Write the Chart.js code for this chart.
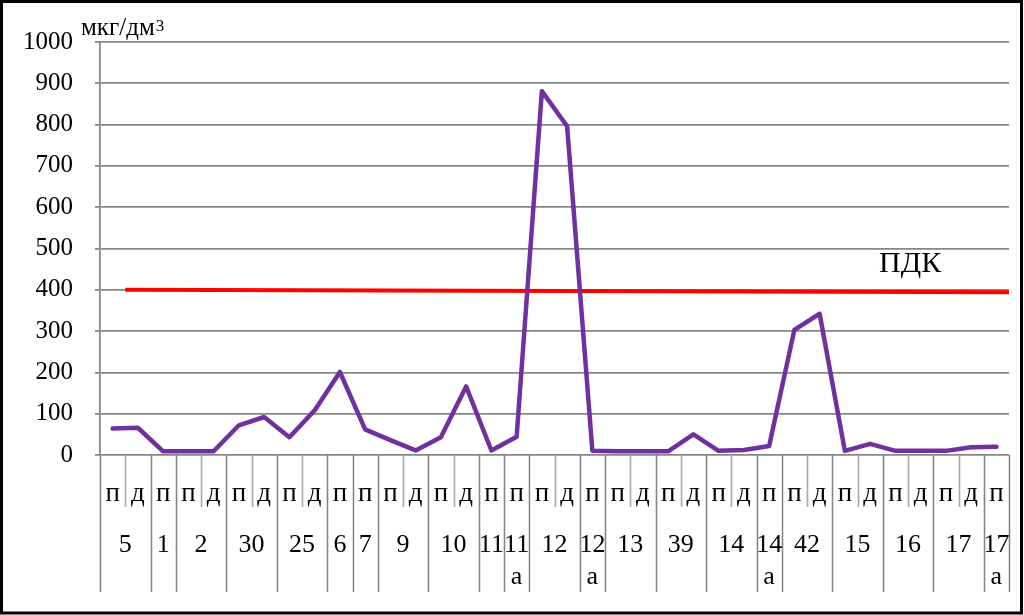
<!DOCTYPE html>
<html>
<head>
<meta charset="utf-8">
<script src="https://cdn.jsdelivr.net/npm/chart.js@4"></script>
<style>
  html, body { margin: 0; padding: 0; background: #fff; overflow: hidden; }
  canvas { display: block; }
</style>
</head>
<body>
<canvas id="myChart" width="1024" height="615"></canvas>
<script>
const FONT = '"Liberation Serif", "Times New Roman", serif';

// п / д for each point
const pdLabels = [
  "п", "д", "п", "п", "д", "п", "д", "п", "д", "п", "п", "п", "д", "п", "д", "п", "п", "п",
  "д", "п", "п", "д", "п", "д", "п", "д", "п", "п", "д", "п", "д", "п", "д", "п", "д", "п",
];
// groups under the п/д row
const groupNames = ["5", "1", "2", "30", "25", "6", "7", "9", "10", "11", "11а",
  "12", "12а", "13", "39", "14", "14а", "42", "15", "16", "17", "17а"];
const groupSizes = [2, 1, 2, 2, 2, 1, 1, 2, 2, 1, 1, 2, 1, 2, 2, 2, 1, 2, 2, 2, 2, 1];

// концентрация, мкг/дм3
const conc = [64, 66, 9, 9, 9, 72, 92, 43, 108, 201, 62, 36, 11, 43, 166, 11, 44, 881,
  796, 10, 9, 9, 9, 50, 10, 12, 22, 303, 342, 10, 27, 10, 10, 10, 19, 20];

// ПДК line ends (category index, value)
const pdkX = [0.5, 35.5];
const pdkY = [400, 394];

const yTicks = [0, 100, 200, 300, 400, 500, 600, 700, 800, 900, 1000];

// table under the x axis + texts
const tablePlugin = {
  id: "table",
  afterDraw(chart) {
    const ctx = chart.ctx;
    const x = chart.scales.x;
    const bottom = chart.chartArea.bottom;
    const half = (x.getPixelForValue(1) - x.getPixelForValue(0)) / 2;

    // group start indexes
    let starts = [0];
    groupSizes.forEach((s, i) => starts.push(starts[i] + s));

    ctx.save();
    for (let i = 0; i <= pdLabels.length; i++) {
      const bx = Math.round(x.getPixelForValue(i) - half) + 0.5;
      const long = starts.includes(i);
      ctx.strokeStyle = long ? "#858585" : "#a8a8a8";
      ctx.lineWidth = 1.6;
      ctx.beginPath();
      ctx.moveTo(bx, bottom);
      ctx.lineTo(bx, long ? 592 : 507);
      ctx.stroke();
    }

    ctx.fillStyle = "#000";
    ctx.textAlign = "center";
    ctx.textBaseline = "alphabetic";
    ctx.font = "27px " + FONT;
    pdLabels.forEach((l, i) => {
      ctx.fillText(l, x.getPixelForValue(i), 501);
    });

    ctx.font = "26px " + FONT;
    groupNames.forEach((name, g) => {
      const a = starts[g];
      const b = starts[g + 1] - 1;
      const cx = (x.getPixelForValue(a) + x.getPixelForValue(b)) / 2;
      const num = name.replace("а", "");
      ctx.fillText(num, cx, 552);
      if (name.endsWith("а")) ctx.fillText("а", cx, 584);
    });

    // units
    ctx.textAlign = "left";
    ctx.font = "25px " + FONT;
    ctx.fillText("мкг/дм", 81, 35);
    const w = ctx.measureText("мкг/дм").width;
    ctx.font = "17px " + FONT;
    ctx.fillText("3", 81 + w + 1, 31);

    // ПДК label
    ctx.font = "30px " + FONT;
    ctx.fillText("ПДК", 879, 272);

    // frame
    ctx.strokeStyle = "#000";
    ctx.lineWidth = 3;
    ctx.strokeRect(1.5, 1.5, 1020, 611.5);
    ctx.restore();
  },
};

const ctx = document.getElementById("myChart").getContext("2d");
const myChart = new Chart(ctx, {
  type: "line",
  data: {
    labels: pdLabels,
    datasets: [
      {
        data: conc,
        borderColor: "#7030A0",
        borderWidth: 4.5,
        borderJoinStyle: "round",
        borderCapStyle: "round",
        pointRadius: 0,
        tension: 0,
        fill: false,
      },
      {
        data: pdkX.map((v, i) => ({ x: v, y: pdkY[i] })),
        xAxisID: "x2",
        borderColor: "#FF0000",
        borderWidth: 4,
        pointRadius: 0,
        tension: 0,
        fill: false,
      },
    ],
  },
  options: {
    responsive: false,
    animation: false,
    layout: { padding: { top: 42, right: 15, left: 0, bottom: 0 } },
    plugins: {
      legend: { display: false },
      tooltip: { enabled: false },
    },
    scales: {
      x: {
        type: "category",
        offset: true,
        grid: { display: false },
        border: { display: false },
        ticks: { display: false },
        afterFit: (scale) => {
          scale.height = 160;
        },
      },
      x2: {
        type: "linear",
        display: false,
        min: -0.5,
        max: 35.5,
      },
      y: {
        min: 0,
        max: 1000,
        afterBuildTicks: (scale) => {
          scale.ticks = yTicks.map((v) => ({ value: v }));
        },
        ticks: {
          font: { family: FONT, size: 25 },
          color: "#000",
          padding: 22,
          callback: (v) => String(v),
        },
        grid: {
          color: "#878787",
          lineWidth: 1.8,
          tickLength: 5,
        },
        border: { color: "#878787", width: 1.8 },
        afterFit: (scale) => {
          scale.width = 100;
        },
      },
    },
  },
  plugins: [tablePlugin],
});
</script>
</body>
</html>
